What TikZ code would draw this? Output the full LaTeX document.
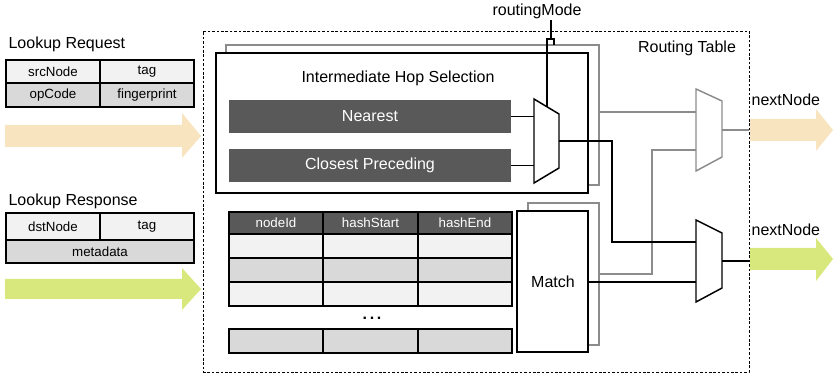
\documentclass[tikz,border=0pt]{standalone}
\usepackage{fontspec}
\setmainfont{Liberation Sans}
\usetikzlibrary{fit}

\definecolor{darkfill}{HTML}{595959}
\definecolor{lightcell}{HTML}{F2F2F2}
\definecolor{midcell}{HTML}{D9D9D9}
\definecolor{wiregray}{HTML}{8C8C8C}
\definecolor{reqarrow}{HTML}{F9E4C0}
\definecolor{resarrow}{HTML}{D8E87C}

\newcommand{\labelfont}{\fontsize{12}{14}\selectfont}
\newcommand{\cellfont}{\fontsize{10}{12}\selectfont}

\tikzset{
  line/.style={line width=1.1pt, draw=black},
  grayline/.style={line width=1.1pt, draw=wiregray},
  boxed/.style={inner sep=0pt, line width=1.1pt, draw=black},
  cellbox/.style={inner sep=0pt, line width=1pt, draw=black},
  darkbox/.style={inner sep=0pt, fill=darkfill},
  txt/.style={inner sep=1pt, font=\labelfont},
  ctxt/.style={inner sep=1pt, font=\cellfont},
  muxshape/.style={line width=1.1pt, fill=white},
}

\begin{document}
\begin{tikzpicture}[x=0.75pt, y=-0.75pt]
\useasboundingbox (0,0) rectangle (833,374);

% ---- request / response packets ----
\node[txt, anchor=west] (reqlbl) at (7,44) {Lookup Request};
\node[cellbox, fill=lightcell, fit={(6,60)(100,83)}] (src) {};
\node[cellbox, fill=lightcell, fit={(100,60)(194,83)}] (rtag) {};
\node[cellbox, fill=midcell, fit={(6,83)(100,107)}] (opc) {};
\node[cellbox, fill=midcell, fit={(100,83)(194,107)}] (fp) {};
\node[ctxt] at (src) {srcNode};
\node[ctxt] at (rtag) {tag};
\node[ctxt] at (opc) {opCode};
\node[ctxt] at (fp) {fingerprint};
\fill[reqarrow] (5,125) -- (182,125) -- (182,113) -- (201,136) -- (182,158) -- (182,147) -- (5,147) -- cycle;

\node[txt, anchor=west] (reslbl) at (7,201) {Lookup Response};
\node[cellbox, fill=lightcell, fit={(6,213)(100,240)}] (dst) {};
\node[cellbox, fill=lightcell, fit={(100,213)(194,240)}] (stag) {};
\node[cellbox, fill=midcell, fit={(6,240)(194,263)}] (meta) {};
\node[ctxt] at (dst) {dstNode};
\node[ctxt] at (stag) {tag};
\node[ctxt] at (meta) {metadata};
\fill[resarrow] (5,279) -- (182,279) -- (182,268) -- (201,289) -- (182,310) -- (182,299) -- (5,299) -- cycle;

% ---- routing table frame ----
\node[inner sep=0pt, draw=black, line width=0.7pt, dash pattern=on 2pt off 1.3pt,
      fit={(203,31)(749,372)}] (rt) {};
\node[txt] (rtlbl) at (687,48) {Routing Table};

% ---- intermediate hop selection ----
\node[boxed, draw=wiregray, fit={(226,45)(599,185)}] (hopback) {};
\node[boxed, fill=white, fit={(216,53)(588,193)}] (hop) {};
\node[txt] (hoplbl) at (398,78) {Intermediate Hop Selection};
\node[darkbox, fit={(229,100)(511,133)}] (near) {};
\node[darkbox, fit={(229,149)(511,182)}] (close) {};
\node[txt, text=white] at (near) {Nearest};
\node[txt, text=white] at (close) {Closest Preceding};

% selector mux
\draw[muxshape] (534,99) -- (559,114) -- (559,168) -- (534,183) -- cycle;
\coordinate (m1in1) at (534,117);
\coordinate (m1in2) at (534,166);
\coordinate (m1out) at (559,141);
\coordinate (m1sel) at (547,107);
\draw[line] (near.east) -- (near.east -| m1in1);
\draw[line] (close.east) -- (close.east -| m1in2);

\node[txt] (rm) at (537,11) {routingMode};
\coordinate (hopj) at (551,39);
\draw[line] (rm.south -| hopj) -- (hopj);
\draw[line] (m1sel) -- (547,39) -- (554,39) -- (554,45);

% ---- node table ----
\begin{scope}[every node/.style={cellbox}]
\node[fill=darkfill, fit={(229,212)(323,234)}] (h1) {};
\node[fill=darkfill, fit={(323,212)(418,234)}] (h2) {};
\node[fill=darkfill, fit={(418,212)(512,234)}] (h3) {};
\node[fill=lightcell, fit={(229,234)(323,258)}] (a1) {};
\node[fill=lightcell, fit={(323,234)(418,258)}] (a2) {};
\node[fill=lightcell, fit={(418,234)(512,258)}] (a3) {};
\node[fill=midcell, fit={(229,258)(323,282)}] (b1) {};
\node[fill=midcell, fit={(323,258)(418,282)}] (b2) {};
\node[fill=midcell, fit={(418,258)(512,282)}] (b3) {};
\node[fill=lightcell, fit={(229,282)(323,306)}] (c1) {};
\node[fill=lightcell, fit={(323,282)(418,306)}] (c2) {};
\node[fill=lightcell, fit={(418,282)(512,306)}] (c3) {};
\node[fill=midcell, fit={(229,329)(323,353)}] (d1) {};
\node[fill=midcell, fit={(323,329)(418,353)}] (d2) {};
\node[fill=midcell, fit={(418,329)(512,353)}] (d3) {};
\end{scope}
\node[ctxt, text=white] at (h1) {nodeId};
\node[ctxt, text=white] at (h2) {hashStart};
\node[ctxt, text=white] at (h3) {hashEnd};
\node[txt, font=\labelfont\bfseries] (dots) at (372,318) {.\kern2pt.\kern2pt.};

% ---- match unit ----
\node[boxed, draw=wiregray, fit={(528,203)(599,345)}] (matchback) {};
\node[boxed, fill=white, fit={(517,211)(588,352)}] (match) {};
\node[txt] at (553,282) {Match};

% ---- output muxes ----
\draw[muxshape, draw=wiregray] (696,89) -- (722,101) -- (722,157) -- (696,171) -- cycle;
\coordinate (m2in1) at (696,112);
\coordinate (m2in2) at (696,150);
\coordinate (m2out) at (722,130);

\draw[muxshape, draw=black] (696,220) -- (722,233) -- (722,288) -- (696,302) -- cycle;
\coordinate (m3in1) at (696,242);
\coordinate (m3in2) at (696,282);
\coordinate (m3out) at (722,261);

% gray request path
\coordinate (gjoin) at (652,274);
\draw[grayline] (hopback.east |- m2in1) -- (m2in1);
\draw[grayline] (matchback.east |- gjoin) -- (gjoin) |- (m2in2);
\draw[grayline] (m2out) -- (rt.east |- m2out);

% black response path
\coordinate (bturn) at (612,141);
\draw[line] (m1out) -- (bturn) |- (m3in1);
\draw[line] (match.east |- m3in2) -- (m3in2);
\draw[line] (m3out) -- (rt.east |- m3out);

% ---- outgoing arrows ----
\fill[reqarrow] (750,119) -- (816,119) -- (816,109) -- (833,130) -- (816,151) -- (816,141) -- (750,141) -- cycle;
\node[txt, anchor=west] (nn1) at (750,100) {nextNode};
\fill[resarrow] (750,248) -- (816,248) -- (816,238) -- (833,259) -- (816,281) -- (816,270) -- (750,270) -- cycle;
\node[txt, anchor=west] (nn2) at (750,230) {nextNode};
\end{tikzpicture}
\end{document}
